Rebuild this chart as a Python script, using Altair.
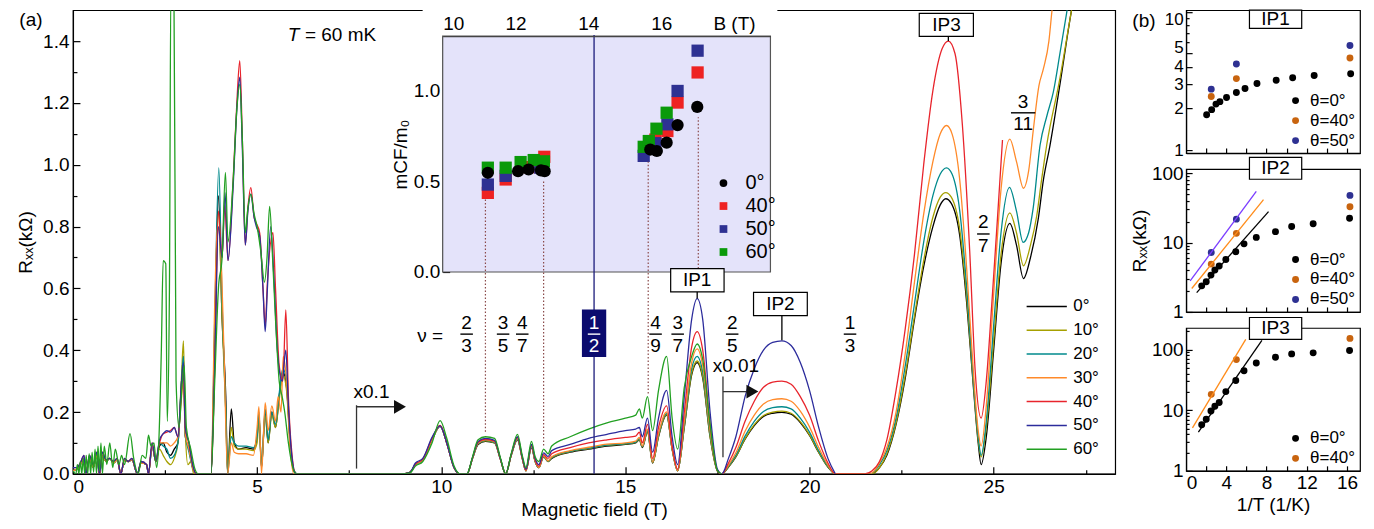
import altair as alt
import pandas as pd

FONT = "Liberation Sans"

# ---------------- panel (a): Rxx(B) traces, (B [T], Rxx [kOhm]) ----------------
ANGLES = ["0°", "10°", "20°", "30°", "40°", "50°", "60°"]
COLORS = ["#000000", "#a6a000", "#008a8c", "#ff8a2a", "#e8242c", "#2c2c9c", "#22a022"]

OSC_LO = [(0.0, 0.01), (0.1, 0.015), (0.2, 0.03), (0.3, 0.05), (0.35, 0.0), (0.45, 0.05), (0.55, 0.02),
          (0.65, 0.06), (0.72, 0.0), (0.8, 0.06), (0.9, 0.04), (1.0, 0.05), (1.1, 0.035), (1.2, 0.045),
          (1.3, 0.0), (1.4, 0.045), (1.5, 0.04), (1.6, 0.045), (1.75, 0.0), (1.85, 0.035), (2.0, 0.03),
          (2.05, 0.0), (2.15, 0.09), (2.25, 0.04)]
OSC_HI = [(0.0, 0.02), (0.1, 0.02), (0.2, 0.035), (0.3, 0.06), (0.35, 0.0), (0.45, 0.06), (0.55, 0.03),
          (0.65, 0.07), (0.72, 0.0), (0.8, 0.07), (0.9, 0.045), (1.0, 0.05), (1.1, 0.04), (1.2, 0.05),
          (1.3, 0.0), (1.4, 0.05), (1.5, 0.04), (1.6, 0.05), (1.75, 0.0), (1.85, 0.04), (2.0, 0.03),
          (2.05, 0.0), (2.15, 0.1), (2.25, 0.04)]
TAIL_0 = [(2.35, 0.09), (2.45, 0.1), (2.55, 0.07), (2.65, 0.06), (2.75, 0.08), (2.85, 0.1), (2.95, 0.3),
          (3.0, 0.38), (3.05, 0.12), (3.15, 0.08), (3.25, 0.02), (3.35, 0.0), (3.75, 0.0), (3.85, 0.45),
          (3.95, 0.9), (4.05, 0.5), (4.15, 0.25), (4.2, 0.0), (4.3, 0.21), (4.38, 0.1), (4.5, 0.08),
          (4.7, 0.085), (4.9, 0.08), (5.0, 0.12), (5.05, 0.19), (5.12, 0.02), (5.22, 0.2), (5.3, 0.1),
          (5.4, 0.2), (5.5, 0.15), (5.6, 0.25), (5.7, 0.33), (5.8, 0.28), (5.9, 0.1), (6.0, 0.01), (6.1, 0.0)]
TAIL_10 = [(2.35, 0.08), (2.45, 0.06), (2.55, 0.04), (2.65, 0.03), (2.75, 0.05), (2.85, 0.1), (2.95, 0.32),
           (3.0, 0.43), (3.05, 0.14), (3.12, 0.03), (3.2, 0.04), (3.28, 0.0), (3.75, 0.0), (3.85, 0.4),
           (3.95, 0.85), (4.05, 0.5), (4.15, 0.2), (4.2, 0.01), (4.3, 0.15), (4.38, 0.09), (4.5, 0.08),
           (4.7, 0.08), (4.9, 0.075), (5.0, 0.1), (5.05, 0.18), (5.12, 0.03), (5.22, 0.19), (5.3, 0.1),
           (5.4, 0.19), (5.5, 0.15), (5.6, 0.24), (5.7, 0.32), (5.8, 0.27), (5.9, 0.08), (6.0, 0.01), (6.1, 0.0)]
TAIL_20 = [(2.35, 0.1), (2.45, 0.09), (2.55, 0.08), (2.65, 0.05), (2.75, 0.06), (2.85, 0.1), (2.95, 0.3),
           (3.0, 0.38), (3.05, 0.13), (3.15, 0.07), (3.25, 0.02), (3.35, 0.0), (3.75, 0.0), (3.85, 0.5),
           (3.96, 0.99), (4.05, 0.55), (4.15, 0.2), (4.2, 0.0), (4.3, 0.12), (4.38, 0.1), (4.5, 0.09),
           (4.7, 0.09), (4.9, 0.085), (5.0, 0.12), (5.05, 0.2), (5.12, 0.02), (5.22, 0.21), (5.3, 0.11),
           (5.4, 0.2), (5.5, 0.16), (5.6, 0.26), (5.7, 0.34), (5.8, 0.3), (5.9, 0.1), (6.0, 0.01), (6.1, 0.0)]
TAIL_30 = [(2.35, 0.1), (2.45, 0.1), (2.55, 0.1), (2.65, 0.09), (2.75, 0.1), (2.85, 0.12), (2.95, 0.25),
           (3.0, 0.3), (3.05, 0.13), (3.15, 0.08), (3.25, 0.02), (3.35, 0.0), (3.75, 0.0), (3.85, 0.55),
           (3.92, 0.8), (4.0, 0.75), (4.1, 0.4), (4.2, 0.0), (4.3, 0.1), (4.38, 0.07), (4.5, 0.065),
           (4.7, 0.065), (4.9, 0.06), (5.0, 0.15), (5.05, 0.217), (5.12, 0.0), (5.22, 0.23), (5.3, 0.14),
           (5.4, 0.22), (5.5, 0.17), (5.57, 0.25), (5.65, 0.2), (5.71, 0.38), (5.8, 0.3), (5.9, 0.08),
           (6.0, 0.0), (6.1, 0.0)]
TAIL_40 = [(2.35, 0.1), (2.45, 0.13), (2.55, 0.135), (2.65, 0.14), (2.75, 0.15), (2.85, 0.12), (2.95, 0.28),
           (3.0, 0.35), (3.05, 0.15), (3.15, 0.1), (3.25, 0.03), (3.35, 0.0), (3.75, 0.0), (3.85, 0.35),
           (3.95, 0.85), (4.05, 0.7), (4.12, 0.87), (4.21, 0.69), (4.35, 0.95), (4.45, 1.2), (4.53, 1.337),
           (4.6, 1.08), (4.68, 0.74), (4.75, 0.86), (4.83, 0.926), (4.92, 0.83), (4.98, 0.81), (5.07, 0.78),
           (5.16, 0.6), (5.22, 0.48), (5.28, 0.62), (5.43, 0.78), (5.5, 0.6), (5.6, 0.35), (5.7, 0.3),
           (5.78, 0.53), (5.85, 0.25), (5.95, 0.06), (6.05, 0.0), (6.1, 0.0)]
TAIL_50 = [(2.35, 0.11), (2.45, 0.13), (2.55, 0.14), (2.65, 0.135), (2.75, 0.15), (2.85, 0.12), (2.95, 0.3),
           (3.0, 0.36), (3.05, 0.15), (3.15, 0.1), (3.25, 0.03), (3.35, 0.0), (3.75, 0.0), (3.85, 0.35),
           (3.95, 0.8), (4.05, 0.7), (4.13, 0.91), (4.21, 0.69), (4.35, 0.93), (4.45, 1.18), (4.53, 1.283),
           (4.6, 1.05), (4.68, 0.74), (4.75, 0.85), (4.83, 0.905), (4.92, 0.83), (4.98, 0.8), (5.07, 0.77),
           (5.16, 0.6), (5.22, 0.46), (5.28, 0.6), (5.37, 0.8), (5.45, 0.65), (5.55, 0.4), (5.68, 0.3),
           (5.78, 0.4), (5.85, 0.22), (5.95, 0.05), (6.05, 0.0), (6.1, 0.0)]
LOW_60 = [(0.0, 0.01), (0.08, 0.0), (0.12, 0.03), (0.16, 0.0), (0.2, 0.04), (0.24, 0.0), (0.28, 0.05),
          (0.32, 0.0), (0.36, 0.06), (0.4, 0.0), (0.44, 0.065), (0.48, 0.0), (0.52, 0.07), (0.56, 0.005),
          (0.6, 0.08), (0.64, 0.0), (0.68, 0.09), (0.72, 0.01), (0.76, 0.1), (0.8, 0.0), (0.85, 0.09),
          (0.92, 0.03), (1.0, 0.1), (1.08, 0.02), (1.15, 0.08), (1.25, 0.03), (1.32, 0.06), (1.4, 0.03),
          (1.55, 0.13), (1.65, 0.05), (1.77, 0.0), (1.88, 0.06), (1.98, 0.05), (2.05, 0.125), (2.12, 0.09),
          (2.2, 0.1), (2.27, 0.02), (2.33, 0.1), (2.4, 0.4), (2.45, 0.69), (2.52, 0.68), (2.56, 0.17),
          (2.62, 0.6), (2.66, 1.6), (2.74, 1.6), (2.8, 0.3), (2.88, 0.15), (2.97, 0.3), (3.02, 0.35),
          (3.08, 0.15), (3.2, 0.08), (3.3, 0.02), (3.4, 0.0), (3.75, 0.0), (3.85, 0.3), (3.95, 0.6),
          (4.05, 0.7), (4.14, 0.975), (4.21, 0.75), (4.35, 0.95), (4.45, 1.18), (4.53, 1.26), (4.6, 1.08),
          (4.68, 0.78), (4.75, 0.86), (4.83, 0.905), (4.92, 0.84), (5.0, 0.8), (5.1, 0.72), (5.2, 0.62),
          (5.27, 0.7), (5.34, 0.865), (5.42, 0.7), (5.5, 0.5), (5.6, 0.3), (5.68, 0.25), (5.75, 0.2),
          (5.85, 0.1), (5.95, 0.03), (6.05, 0.0), (6.1, 0.0)]

# x0.1 region
MID_B = [6.1, 8.9, 9.15, 9.3, 9.5, 9.75, 9.97, 10.15, 10.35, 10.5, 10.7, 10.85, 11.0, 11.2, 11.45,
         11.6, 11.75, 11.9, 12.07, 12.2, 12.3, 12.45, 12.55, 12.65, 12.78, 12.9, 13.0, 13.5, 14.0, 14.5,
         15.0, 15.28, 15.38, 15.46, 15.6, 15.74, 15.9, 16.12, 16.27, 16.42, 16.6, 16.8, 16.95, 17.1, 17.3,
         17.5, 17.62]
MID_0 = [0, 0, 0.005, 0.03, 0.045, 0.11, 0.154, 0.1, 0.02, 0.0, 0.0, 0.05, 0.095, 0.105, 0.1,
         0.05, 0.0, 0.06, 0.11, 0.05, 0.01, 0.085, 0.04, 0.02, 0.055, 0.04, 0.05, 0.07, 0.08, 0.09,
         0.095, 0.1, 0.11, 0.085, 0.135, 0.035, 0.12, 0.19, 0.08, 0.01, 0.15, 0.32, 0.36, 0.31, 0.12,
         0.01, 0.0]
MID_10 = [0, 0, 0.005, 0.03, 0.045, 0.11, 0.155, 0.1, 0.02, 0.0, 0.0, 0.05, 0.097, 0.107, 0.1,
          0.05, 0.0, 0.06, 0.112, 0.05, 0.01, 0.087, 0.04, 0.02, 0.056, 0.04, 0.052, 0.072, 0.082, 0.092,
          0.097, 0.102, 0.112, 0.087, 0.137, 0.036, 0.122, 0.192, 0.08, 0.01, 0.152, 0.325, 0.365, 0.315,
          0.12, 0.01, 0.0]
MID_20 = [0, 0, 0.005, 0.03, 0.045, 0.11, 0.155, 0.1, 0.02, 0.0, 0.0, 0.05, 0.098, 0.108, 0.102,
          0.05, 0.0, 0.06, 0.113, 0.05, 0.01, 0.088, 0.041, 0.02, 0.057, 0.041, 0.053, 0.073, 0.083, 0.093,
          0.098, 0.103, 0.114, 0.088, 0.14, 0.037, 0.125, 0.195, 0.08, 0.01, 0.16, 0.34, 0.38, 0.33, 0.13,
          0.01, 0.0]
MID_30 = [0, 0, 0.005, 0.03, 0.045, 0.11, 0.156, 0.1, 0.02, 0.0, 0.0, 0.05, 0.1, 0.11, 0.104,
          0.05, 0.0, 0.06, 0.115, 0.05, 0.01, 0.09, 0.042, 0.02, 0.058, 0.042, 0.055, 0.075, 0.086, 0.096,
          0.1, 0.106, 0.118, 0.09, 0.145, 0.038, 0.13, 0.2, 0.082, 0.01, 0.17, 0.36, 0.404, 0.35, 0.14,
          0.01, 0.0]
MID_40 = [0, 0, 0.005, 0.032, 0.048, 0.115, 0.157, 0.1, 0.02, 0.0, 0.0, 0.052, 0.102, 0.112, 0.106,
          0.05, 0.0, 0.062, 0.118, 0.052, 0.012, 0.092, 0.045, 0.025, 0.062, 0.05, 0.065, 0.085, 0.1, 0.11,
          0.118, 0.122, 0.135, 0.1, 0.16, 0.05, 0.15, 0.22, 0.09, 0.015, 0.2, 0.41, 0.46, 0.4, 0.16,
          0.01, 0.0]
MID_50 = [0, 0, 0.005, 0.035, 0.05, 0.118, 0.155, 0.1, 0.02, 0.0, 0.0, 0.053, 0.105, 0.115, 0.108,
          0.052, 0.0, 0.063, 0.12, 0.055, 0.015, 0.095, 0.05, 0.03, 0.068, 0.056, 0.075, 0.095, 0.115, 0.128,
          0.14, 0.145, 0.15, 0.12, 0.18, 0.07, 0.18, 0.27, 0.12, 0.03, 0.25, 0.5, 0.567, 0.5, 0.2,
          0.015, 0.0]
MID_60 = [0, 0, 0.003, 0.025, 0.04, 0.1, 0.172, 0.115, 0.025, 0.0, 0.0, 0.055, 0.11, 0.12, 0.115,
          0.055, 0.0, 0.065, 0.128, 0.06, 0.02, 0.105, 0.055, 0.04, 0.08, 0.065, 0.09, 0.12, 0.145, 0.165,
          0.18, 0.19, 0.21, 0.18, 0.25, 0.14, 0.27, 0.38, 0.18, 0.08, 0.28, 0.38, 0.42, 0.37, 0.16,
          0.01, 0.0]

# x0.01 region, IP2
IP2_B = [17.8, 18.0, 18.25, 18.5, 18.75, 19.0, 19.25, 19.5, 19.75, 20.0, 20.25, 20.5, 20.7]
IP2_0 = [0.022, 0.055, 0.112, 0.156, 0.186, 0.196, 0.199, 0.193, 0.166, 0.124, 0.069, 0.022, 0.0]
IP2_10 = [0.023, 0.056, 0.114, 0.159, 0.189, 0.2, 0.203, 0.196, 0.169, 0.126, 0.07, 0.023, 0.0]
IP2_20 = [0.025, 0.06, 0.122, 0.17, 0.202, 0.214, 0.217, 0.21, 0.18, 0.135, 0.075, 0.025, 0.0]
IP2_30 = [0.028, 0.068, 0.138, 0.19, 0.226, 0.24, 0.243, 0.235, 0.203, 0.152, 0.085, 0.028, 0.0]
IP2_40 = [0.035, 0.085, 0.17, 0.235, 0.28, 0.297, 0.30, 0.29, 0.25, 0.19, 0.105, 0.035, 0.0]
IP2_50 = [0.05, 0.12, 0.25, 0.34, 0.40, 0.425, 0.43, 0.415, 0.36, 0.27, 0.15, 0.05, 0.0]
GAP = [(21.0, 0.0)]

# IP3 and beyond
IP3_0 = [(21.5, 0.0), (21.7, 0.0), (21.9, 0.02), (22.1, 0.06), (22.35, 0.16), (22.6, 0.31), (22.85, 0.5),
         (23.1, 0.67), (23.35, 0.8), (23.55, 0.87), (23.7, 0.89), (23.85, 0.875), (24.08, 0.77), (24.27, 0.55),
         (24.45, 0.28), (24.58, 0.1), (24.66, 0.03), (24.8, 0.12), (25.0, 0.4), (25.2, 0.68), (25.44, 0.81),
         (25.62, 0.74), (25.81, 0.632), (26.0, 0.7), (26.21, 0.824), (26.35, 0.95), (26.53, 1.063),
         (26.8, 1.26), (27.1, 1.49), (27.3, 1.62)]
IP3_10 = [(21.5, 0.0), (21.7, 0.0), (21.9, 0.02), (22.1, 0.065), (22.35, 0.165), (22.6, 0.32), (22.85, 0.51),
          (23.1, 0.69), (23.35, 0.83), (23.55, 0.895), (23.7, 0.91), (23.85, 0.895), (24.08, 0.79), (24.27, 0.57),
          (24.45, 0.29), (24.58, 0.11), (24.66, 0.055), (24.8, 0.15), (25.0, 0.43), (25.2, 0.71), (25.44, 0.844),
          (25.62, 0.78), (25.81, 0.673), (26.0, 0.74), (26.17, 0.835), (26.3, 0.95), (26.44, 1.063),
          (26.8, 1.28), (27.1, 1.49), (27.3, 1.62)]
IP3_20 = [(21.5, 0.0), (21.65, 0.0), (21.9, 0.03), (22.1, 0.075), (22.35, 0.18), (22.6, 0.35), (22.85, 0.55),
          (23.1, 0.75), (23.35, 0.9), (23.55, 0.97), (23.72, 0.99), (23.87, 0.97), (24.08, 0.85), (24.27, 0.6),
          (24.45, 0.3), (24.58, 0.12), (24.66, 0.06), (24.8, 0.17), (25.0, 0.48), (25.2, 0.78), (25.43, 0.927),
          (25.62, 0.85), (25.8, 0.749), (25.95, 0.78), (26.07, 0.857), (26.26, 1.063), (26.45, 1.16),
          (26.62, 1.235), (26.8, 1.36), (26.98, 1.49), (27.15, 1.62)]
IP3_30 = [(21.5, 0.0), (21.65, 0.0), (21.9, 0.035), (22.1, 0.085), (22.35, 0.2), (22.6, 0.39), (22.85, 0.62),
          (23.1, 0.84), (23.35, 1.01), (23.55, 1.1), (23.72, 1.127), (23.87, 1.1), (24.08, 0.95), (24.27, 0.66),
          (24.45, 0.33), (24.58, 0.14), (24.66, 0.09), (24.8, 0.22), (25.0, 0.58), (25.2, 0.92), (25.44, 1.083),
          (25.62, 1.01), (25.81, 0.924), (25.95, 0.98), (26.08, 1.116), (26.23, 1.256), (26.35, 1.31),
          (26.5, 1.4), (26.58, 1.494), (26.7, 1.62)]
IP3_40 = [(21.5, 0.0), (21.7, 0.01), (21.9, 0.04), (22.1, 0.11), (22.35, 0.27), (22.6, 0.47), (22.85, 0.71),
          (23.1, 1.0), (23.35, 1.24), (23.6, 1.375), (23.77, 1.40), (23.95, 1.36), (24.15, 1.13), (24.35, 0.72),
          (24.5, 0.33), (24.66, 0.18), (24.8, 0.3), (24.95, 0.55), (25.1, 0.82), (25.24, 1.08)]


def seg(bs, rs):
    return list(zip(bs, rs))


CURVES = {
    "0°": OSC_LO + TAIL_0 + seg(MID_B[1:], MID_0[1:]) + seg(IP2_B, IP2_0) + GAP + IP3_0,
    "10°": OSC_LO + TAIL_10 + seg(MID_B[1:], MID_10[1:]) + seg(IP2_B, IP2_10) + GAP + IP3_10,
    "20°": OSC_LO + TAIL_20 + seg(MID_B[1:], MID_20[1:]) + seg(IP2_B, IP2_20) + GAP + IP3_20,
    "30°": OSC_LO + TAIL_30 + seg(MID_B[1:], MID_30[1:]) + seg(IP2_B, IP2_30) + GAP + IP3_30,
    "40°": OSC_HI + TAIL_40 + seg(MID_B[1:], MID_40[1:]) + seg(IP2_B, IP2_40) + GAP + IP3_40,
    "50°": OSC_HI + TAIL_50 + seg(MID_B[1:], MID_50[1:]) + seg(IP2_B, IP2_50),
    "60°": LOW_60 + seg(MID_B[1:], MID_60[1:]),
}

# ---------------- inset: effective mass ----------------
INSET_ANG = ["0°", "40°", "50°", "60°"]
INSET_COL = ["#000000", "#ee2222", "#2e3192", "#0a9a0a"]
INSET_SHAPE = ["circle", "square", "square", "square"]
INSET_40 = [(11.24, 0.436), (11.73, 0.51), (12.36, 0.578), (12.79, 0.635), (15.84, 0.73), (16.17, 0.777),
            (16.45, 0.934), (17.0, 1.10)]
INSET_50 = [(11.24, 0.482), (11.73, 0.53), (12.68, 0.575), (15.52, 0.64), (15.84, 0.71), (16.17, 0.814),
            (16.45, 0.998), (17.0, 1.22)]
INSET_60 = [(11.24, 0.575), (11.73, 0.575), (12.14, 0.606), (12.5, 0.617), (12.78, 0.61), (15.52, 0.69),
            (15.66, 0.722), (15.87, 0.79), (16.15, 0.878)]
INSET_0 = [(11.24, 0.547), (12.07, 0.556), (12.36, 0.565), (12.7, 0.56), (12.8, 0.556), (15.7, 0.675),
           (15.88, 0.667), (16.15, 0.713), (16.45, 0.81), (16.99, 0.91)]
# white label strip behind the inset's B axis (hides the frame there)
INSET_STRIP = [(9.45, 19.19, 1.31, 1.447)]

# ---------------- annotations of panel (a) ----------------
FRACS = [  # B, numerator, denominator, R_num, R_den, R_bar, half bar width
    (10.69, "2", "3", 0.487, 0.415, 0.452, 0.17), (11.68, "3", "5", 0.487, 0.415, 0.452, 0.17),
    (12.2, "4", "7", 0.487, 0.415, 0.452, 0.17), (15.82, "4", "9", 0.487, 0.415, 0.452, 0.17),
    (16.42, "3", "7", 0.487, 0.415, 0.452, 0.17), (17.9, "2", "5", 0.487, 0.415, 0.452, 0.17),
    (21.1, "1", "3", 0.487, 0.415, 0.452, 0.17), (24.72, "2", "7", 0.814, 0.738, 0.776, 0.17),
    (25.8, "3", "11", 1.203, 1.132, 1.168, 0.33)]
LABELS_C = [(-1.14, 1.468, "(a)"), (9.7, 0.445, "ν ="), (18.0, 0.348, "x0.01"),
            (16.95, 0.627, "IP1"), (19.21, 0.55, "IP2"), (23.72, 1.452, "IP3")]
LABELS_L = [(6.3, 1.42, "= 60 mK"), (7.62, 0.265, "x0.1")]
LABEL_T = [(6.15, 1.42, "T")]
HALF_BOX = [(13.82, 14.48, 0.378, 0.532)]
HALF_TXT = [(14.15, 0.487, "1"), (14.15, 0.415, "2")]
IP_BOXES = [(16.23, 17.68, 0.589, 0.664), (18.48, 19.94, 0.512, 0.587), (22.98, 24.45, 1.415, 1.49)]
VRULES = [  # B, R, R2, colour
    (14.15, 0.0, 1.42, "#1b1b7a"), (7.7, 0.017, 0.222, "#333333"), (17.65, 0.054, 0.315, "#333333"),
    (16.95, 0.567, 0.589, "#000000"), (19.25, 0.432, 0.512, "#000000"), (23.77, 1.40, 1.415, "#000000")]
HRULES = [(7.7, 8.75, 0.217, "#333333"), (17.65, 18.32, 0.266, "#333333")]
ARROWS = [(8.88, 0.217), (18.45, 0.266)]
DOTTED = [(11.2, 0.136, 0.888), (12.78, 0.092, 0.95), (15.62, 0.26, 1.01), (16.98, 0.664, 1.154)]

# ---------------- panel (b): Rxx vs 1/T ----------------
P1_X0 = [2.04, 2.54, 2.97, 3.36, 4.02, 5.0, 5.86, 7.05, 8.96, 10.6, 12.74, 16.37]
P1_Y0 = [1.80, 1.96, 2.15, 2.24, 2.40, 2.61, 2.79, 3.03, 3.20, 3.34, 3.47, 3.57]
P1_X40 = [2.5, 5.0, 16.3]
P1_Y40 = [2.44, 3.29, 4.64]
P1_Y50 = [2.76, 4.2, 5.71]
P2_X0 = [1.55, 2.0, 2.47, 2.86, 3.29, 3.95, 4.94, 5.76, 6.98, 8.89, 10.5, 12.64, 16.26]
P2_Y0 = [2.38, 2.72, 3.40, 4.02, 4.6, 5.72, 7.4, 9.6, 11.9, 14.4, 17.1, 18.7, 22.5]
P2_Y40 = [4.9, 13.6, 33.0]
P2_Y50 = [7.2, 21.8, 48.0]
P3_Y0 = [5.75, 7.1, 9.7, 11.6, 13.4, 20.2, 30.8, 44.7, 59.8, 74.4, 84.5, 87.9, 96.0]
P3_Y40 = [18.2, 68.0, 152.0]
P2_FITS = [("k", 1.05, 1.9, 8.2, 28.0, "#000000"), ("o", 0.56, 2.18, 7.7, 41.6, "#ff8c1a"),
           ("p", 0.4, 2.8, 6.98, 54.8, "#7a3cff")]
P3_FITS = [("k", 1.22, 4.35, 7.54, 141.0, "#000000"), ("o", 0.63, 5.1, 5.93, 147.0, "#ff8c1a")]
TH_LABELS = ["θ=0°", "θ=40°", "θ=50°"]
TH_COLORS = ["#000000", "#c8640f", "#2e3192"]

# =====================================================================
XS = alt.Scale(domain=[0, 28.3], nice=False, zero=False)
YS = alt.Scale(domain=[0, 1.5], nice=False, zero=False)

rows = []
for ang in ANGLES:
    for k, (b, r) in enumerate(CURVES[ang]):
        rows.append({"angle": ang, "B": b, "R": r, "k": k})
curve_df = pd.DataFrame(rows)

X_LAB = alt.Axis(orient="bottom", values=[0, 5, 10, 15, 20, 25], format="d", ticks=False,
                 title="Magnetic field (T)", labelPadding=4, titlePadding=4)
Y_LAB = alt.Axis(orient="left", values=[round(i * 0.2, 1) for i in range(8)], format=".1f", ticks=False,
                 title="Rₓₓ(kΩ)", labelPadding=4, titlePadding=7)


def tick_axis(orient, offset, size, values):
    return alt.Axis(orient=orient, offset=offset, tickSize=size, values=values, labels=False,
                    domain=False, title=None, grid=False)


def xq(f="B"):
    return alt.X(f"{f}:Q", scale=XS, axis=None)


def yq(f="R"):
    return alt.Y(f"{f}:Q", scale=YS, axis=None)


lines = alt.Chart(curve_df).mark_line(strokeWidth=1.3, clip=True, interpolate="monotone").encode(
    x=alt.X("B:Q", scale=XS, axis=X_LAB), y=alt.Y("R:Q", scale=YS, axis=Y_LAB),
    color=alt.Color("angle:N", scale=alt.Scale(domain=ANGLES, range=COLORS),
                    legend=alt.Legend(title=None, orient="none", legendX=962, legendY=284,
                                      symbolType="M-1.75,0H1.75", symbolSize=529, symbolStrokeWidth=1.5,
                                      labelFontSize=17, rowPadding=2.8, labelOffset=14)),
    order="k:Q",
)

dummy_a = pd.DataFrame({"B": [1.0], "R": [0.5]})
ticks_maj = alt.Chart(dummy_a).mark_point(opacity=0).encode(
    x=alt.X("B:Q", scale=XS, axis=tick_axis("bottom", -7, 7, [0, 5, 10, 15, 20, 25])),
    y=alt.Y("R:Q", scale=YS, axis=tick_axis("left", -7, 7, [round(i * 0.2, 1) for i in range(8)])))
ticks_min = alt.Chart(dummy_a).mark_point(opacity=0).encode(
    x=alt.X("B:Q", scale=XS, axis=tick_axis("bottom", -4, 4, [2.5 + 5 * i for i in range(6)])),
    y=alt.Y("R:Q", scale=YS, axis=tick_axis("left", -4, 4, [round(0.1 + i * 0.2, 1) for i in range(7)])))

vr_df = pd.DataFrame(VRULES, columns=["B", "R", "R2", "col"])
vrules = alt.Chart(vr_df).mark_rule(strokeWidth=1.3).encode(
    x=xq(), y=yq(), y2="R2:Q", stroke=alt.Stroke("col:N", scale=None))
hr_df = pd.DataFrame(HRULES, columns=["B", "B2", "R", "col"])
hrules = alt.Chart(hr_df).mark_rule(strokeWidth=1.3).encode(
    x=xq(), x2="B2:Q", y=yq(), stroke=alt.Stroke("col:N", scale=None))
dot_df = pd.DataFrame(DOTTED, columns=["B", "R", "R2"])
dotted = alt.Chart(dot_df).mark_rule(strokeWidth=1.2, strokeDash=[1.5, 2], color="#8b4a4a").encode(
    x=xq(), y=yq(), y2="R2:Q")
arr_df = pd.DataFrame(ARROWS, columns=["B", "R"])
arrows = alt.Chart(arr_df).mark_point(shape="triangle-right", filled=True, size=190, color="#111111",
                                      opacity=1).encode(x=xq(), y=yq())

box_df = pd.DataFrame(IP_BOXES, columns=["B", "B2", "R", "R2"])
ipboxes = alt.Chart(box_df).mark_rect(fill="white", stroke="black", strokeWidth=1.2).encode(
    x=xq(), x2="B2:Q", y=yq(), y2="R2:Q")
half_df = pd.DataFrame(HALF_BOX, columns=["B", "B2", "R", "R2"])
halfbox = alt.Chart(half_df).mark_rect(fill="#0b0b6e").encode(x=xq(), x2="B2:Q", y=yq(), y2="R2:Q")

frac_txt = []
frac_bar = []
for b, n, d, rn, rd, rb, hw in FRACS:
    frac_txt.append((b, rn, n))
    frac_txt.append((b, rd, d))
    frac_bar.append((b - hw, b + hw, rb, "#000000"))
frac_bar.append((14.15 - 0.17, 14.15 + 0.17, 0.452, "#ffffff"))
ft_df = pd.DataFrame(frac_txt + LABELS_C, columns=["B", "R", "t"])
texts_c = alt.Chart(ft_df).mark_text(fontSize=19, color="black", baseline="middle").encode(
    x=xq(), y=yq(), text="t:N")
tl_df = pd.DataFrame(LABELS_L, columns=["B", "R", "t"])
texts_l = alt.Chart(tl_df).mark_text(fontSize=19, color="black", align="left", baseline="middle").encode(
    x=xq(), y=yq(), text="t:N")
tt_df = pd.DataFrame(LABEL_T, columns=["B", "R", "t"])
text_t = alt.Chart(tt_df).mark_text(fontSize=19, color="black", align="right", baseline="middle",
                                    fontStyle="italic").encode(x=xq(), y=yq(), text="t:N")
hw_df = pd.DataFrame(HALF_TXT, columns=["B", "R", "t"])
text_w = alt.Chart(hw_df).mark_text(fontSize=19, color="white", baseline="middle").encode(
    x=xq(), y=yq(), text="t:N")
fb_df = pd.DataFrame(frac_bar, columns=["B", "B2", "R", "col"])
fbars = alt.Chart(fb_df).mark_rule(strokeWidth=1.4).encode(
    x=xq(), x2="B2:Q", y=yq(), stroke=alt.Stroke("col:N", scale=None))

main_group = alt.layer(lines, ticks_maj, ticks_min, dotted, vrules, hrules, arrows, halfbox, ipboxes,
                       fbars, texts_c, texts_l, text_t, text_w).resolve_axis(x="independent", y="independent")

# inset
IX = alt.Scale(domain=[10, 19], range=[370, 698], nice=False, zero=False)
IY = alt.Scale(domain=[0, 1.3], range=[262, 26], nice=False, zero=False)
ix_axis = alt.Axis(orient="top", offset=-26, values=[10, 12, 14, 16, 18], title=None,
                   labelExpr="datum.value == 18 ? 'B (T)' : format(datum.value, 'd')", zindex=1,
                   ticks=False, labelPadding=3, domainColor="#444444", labelOverlap=False)
iy_axis = alt.Axis(orient="left", offset=-370, values=[0, 0.5, 1.0], format=".1f", ticks=False,
                   title="mCF/m₀", labelPadding=3, titlePadding=3, domainColor="#444444")
inset_bg = alt.Chart(pd.DataFrame({"B": [10.0], "B2": [19.0], "m": [0.0], "m2": [1.3]})).mark_rect(
    fill="#e4e3fa", stroke="#555555", strokeWidth=1.2).encode(
    x=alt.X("B:Q", scale=IX, axis=ix_axis), x2="B2:Q",
    y=alt.Y("m:Q", scale=IY, axis=iy_axis), y2="m2:Q")
strip = alt.Chart(pd.DataFrame(INSET_STRIP, columns=["B", "B2", "m", "m2"])).mark_rect(
    fill="white", strokeWidth=0).encode(
    x=alt.X("B:Q", scale=IX, axis=None), x2="B2:Q", y=alt.Y("m:Q", scale=IY, axis=None), y2="m2:Q")
dummy_i = pd.DataFrame({"B": [12.0], "m": [0.5]})
inset_tmaj = alt.Chart(dummy_i).mark_point(opacity=0).encode(
    x=alt.X("B:Q", scale=IX, axis=tick_axis("top", -34, 8, [10, 12, 14, 16, 18])),
    y=alt.Y("m:Q", scale=IY, axis=tick_axis("left", -377, 7, [0, 0.5, 1.0])))
inset_tmin = alt.Chart(dummy_i).mark_point(opacity=0).encode(
    x=alt.X("B:Q", scale=IX, axis=tick_axis("top", -30, 4, [10.5 + i for i in range(9)] + [11, 13, 15, 17])),
    y=alt.Y("m:Q", scale=IY, axis=tick_axis("left", -374, 4, [0.25, 0.75, 1.25])))
irows = []
for ang, pts in [("40°", INSET_40), ("50°", INSET_50), ("60°", INSET_60), ("0°", INSET_0)]:
    for b, m in pts:
        irows.append({"ang": ang, "B": b, "m": m})
inset_df = pd.DataFrame(irows)
ileg = alt.Legend(title=None, orient="none", legendX=641, legendY=163, labelFontSize=20,
                  symbolSize=60, rowPadding=3, labelOffset=12)
inset_pts = alt.Chart(inset_df).mark_point(filled=True, size=150, opacity=1).encode(
    x=alt.X("B:Q", scale=IX, axis=None),
    y=alt.Y("m:Q", scale=IY, axis=None),
    color=alt.Color("ang:N", scale=alt.Scale(domain=INSET_ANG, range=INSET_COL), legend=ileg),
    shape=alt.Shape("ang:N", scale=alt.Scale(domain=INSET_ANG, range=INSET_SHAPE), legend=ileg),
)
inset = alt.layer(inset_bg, strip, inset_tmaj, inset_tmin, inset_pts).resolve_axis(
    x="independent", y="independent")

panel_a = alt.layer(inset, main_group).resolve_scale(
    x="independent", y="independent", color="independent", shape="independent"
).properties(width=1043, height=464)


# ---------------- panel (b) ----------------
def panel(xs0, ys0, xsc, ysc, labs, ydom, ymajor, yminor, ytitle, last, fits, ipname, box,
          extra=None, flush=False, yfont=19, yoff=0):
    xsca = alt.Scale(domain=[0, 17.3], nice=False, zero=False)
    ysca = alt.Scale(type="log", domain=ydom, nice=False)
    if last:
        xax = alt.Axis(values=[0, 4, 8, 12, 16], format="d", title="1/T (1/K)", ticks=False,
                       labelPadding=3, titlePadding=3)
    else:
        xax = alt.Axis(values=[0, 4, 8, 12, 16], title=None, labels=False, ticks=False)
    ykw = dict(labelFlush=2.5) if flush else dict(labelFlush=False)
    if yoff:
        ykw["labelOffset"] = {"condition": {"test": "datum.value == 5", "value": yoff}, "value": 0}
    yax = alt.Axis(values=ymajor, format="d", title=ytitle, ticks=False, labelPadding=3, titlePadding=2,
                   labelOverlap=False, labelFontSize=yfont, **ykw)
    prow = [{"x": a, "y": b, "lab": TH_LABELS[0]} for a, b in zip(xs0, ys0)]
    for lab, ys in zip(labs[1:], ysc):
        prow += [{"x": a, "y": b, "lab": lab} for a, b in zip(xsc, ys)]
    pdf = pd.DataFrame(prow)
    pts = alt.Chart(pdf).mark_point(filled=True, size=48, opacity=1).encode(
        x=alt.X("x:Q", scale=xsca, axis=xax), y=alt.Y("y:Q", scale=ysca, axis=yax),
        color=alt.Color("lab:N", scale=alt.Scale(domain=labs, range=TH_COLORS[:len(labs)]),
                        legend=alt.Legend(title=None, orient="bottom-right", offset=4, labelFontSize=17,
                                          symbolSize=48, rowPadding=2, labelOffset=6)),
    )
    X = alt.X("x:Q", scale=xsca, axis=None)
    Y = alt.Y("y:Q", scale=ysca, axis=None)
    dummy = pd.DataFrame({"x": [5.0], "y": [3.0]})
    tmaj = alt.Chart(dummy).mark_point(opacity=0).encode(
        x=alt.X("x:Q", scale=xsca, axis=tick_axis("bottom", -5, 5, list(range(2, 17, 2)))),
        y=alt.Y("y:Q", scale=ysca, axis=tick_axis("left", -6, 6, ymajor)))
    tmin = alt.Chart(dummy).mark_point(opacity=0).encode(
        x=X, y=alt.Y("y:Q", scale=ysca, axis=tick_axis("left", -3, 3, yminor)))
    layers = [pts, tmaj, tmin]
    if fits:
        frow = []
        for fid, x0, y0, x1, y1, col in fits:
            frow.append({"x": x0, "y": y0, "id": fid, "col": col})
            frow.append({"x": x1, "y": y1, "id": fid, "col": col})
        fit = alt.Chart(pd.DataFrame(frow)).mark_line(strokeWidth=1.3).encode(
            x=X, y=Y, detail="id:N", stroke=alt.Stroke("col:N", scale=None))
        layers.append(fit)
    bx0, bx1, by0, by1, ty = box
    bdf = pd.DataFrame({"x": [bx0], "x2": [bx1], "y": [by0], "y2": [by1]})
    layers.append(alt.Chart(bdf).mark_rect(fill="white", stroke="black", strokeWidth=1.2).encode(
        x=X, x2="x2:Q", y=Y, y2="y2:Q"))
    tl = [((bx0 + bx1) / 2, ty, ipname)]
    if extra:
        tl.append(extra)
    layers.append(alt.Chart(pd.DataFrame(tl, columns=["x", "y", "t"])).mark_text(
        fontSize=19, baseline="middle", color="black").encode(x=X, y=Y, text="t:N"))
    return alt.layer(*layers).resolve_axis(x="independent", y="independent").properties(width=174, height=143)


minor2 = [2, 3, 4, 5, 6, 7, 8, 9, 20, 30, 40, 50, 60, 70, 80, 90]
p1 = panel(P1_X0, P1_Y0, P1_X40, [P1_Y40, P1_Y50], TH_LABELS, [0.95, 10.3], [1, 2, 3, 4, 5, 10], [6, 7, 8, 9],
           None, False, None, "IP1", (6.3, 11.5, 7.6, 10.3, 8.85), extra=(-4.2, 8.6, "(b)"), flush=True,
           yfont=17, yoff=-6)
p2 = panel(P2_X0, P2_Y0, P1_X40, [P2_Y40, P2_Y50], TH_LABELS, [1, 115], [1, 10, 100], minor2,
           "Rₓₓ(kΩ)", False, P2_FITS, "IP2", (6.3, 11.5, 82, 170, 118))
p3 = panel(P2_X0, P3_Y0, P1_X40, [P3_Y40], TH_LABELS[:2], [1, 226], [1, 10, 100], minor2 + [200],
           None, True, P3_FITS, "IP3", (6.3, 11.5, 147, 336, 222))
panel_b = alt.vconcat(p1, p2, p3, spacing=16, bounds="flush").resolve_scale(color="independent")

chart = alt.hconcat(panel_a, panel_b, spacing=13).resolve_scale(
    color="independent", shape="independent"
).properties(padding={"left": 7, "top": 0, "right": 5, "bottom": 0}).configure(
    font=FONT
).configure_view(stroke="black", strokeWidth=1.2).configure_axis(
    grid=False, domainColor="black", tickColor="black", labelColor="black", titleColor="black",
    labelFontSize=19, titleFontSize=19, titleFontWeight="normal", domainWidth=1.2, tickWidth=1.2
).configure_legend(labelColor="black")

chart.save("out.html", embed_options={"renderer": "svg", "actions": False})
